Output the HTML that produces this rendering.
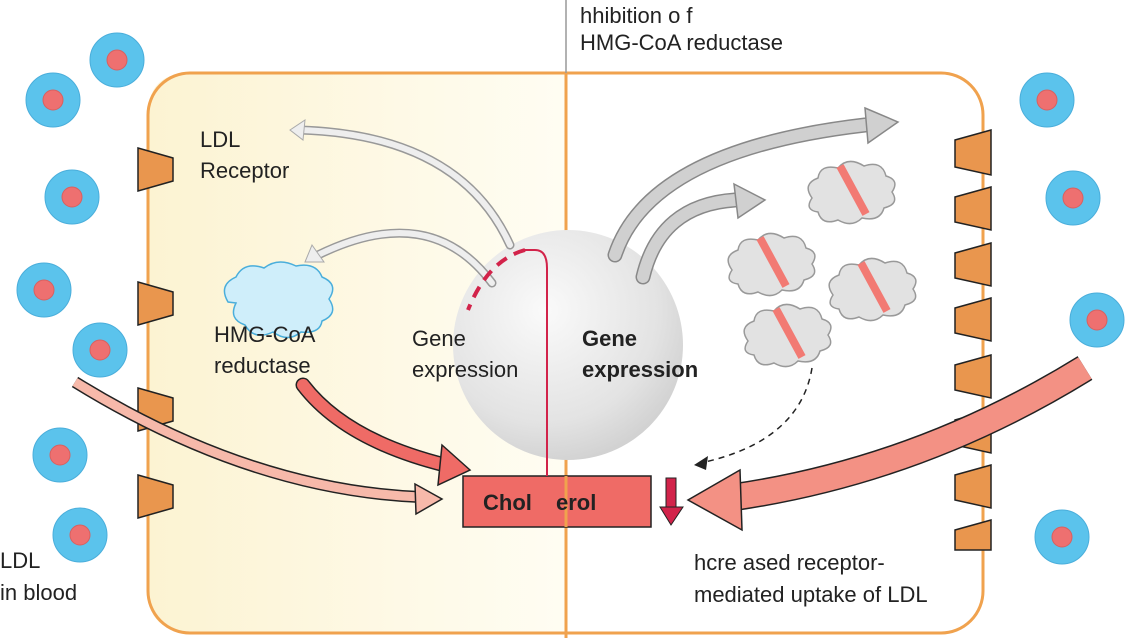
<!DOCTYPE html>
<html><head><meta charset="utf-8"><style>
body{margin:0;background:#fff}
svg{display:block}
text{font-family:"Liberation Sans",sans-serif}
</style></head><body>
<svg width="1125" height="638" viewBox="0 0 1125 638" xmlns="http://www.w3.org/2000/svg">
<defs>
<linearGradient id="lg" x1="0" x2="1" y1="0" y2="0">
<stop offset="0" stop-color="#fcf3d2"/><stop offset="1" stop-color="#fffdf3"/></linearGradient>
<radialGradient id="sg" cx="0.4" cy="0.35" r="0.7">
<stop offset="0" stop-color="#fafafa"/><stop offset="0.7" stop-color="#e3e3e3"/><stop offset="1" stop-color="#cfcfcf"/></radialGradient>
<g id="ldl"><circle r="27" fill="#5bc3ec" stroke="#4aaedb"/><circle r="10" fill="#ee7070" stroke="#d86060"/></g>
<g id="cl"><path d="M-40,8 q-10,-14 6,-20 q2,-14 20,-10 q10,-12 26,-2 q18,-6 22,10 q14,4 6,16 q8,12 -8,16 q-4,14 -22,10 q-10,10 -24,2 q-16,6 -20,-8 q-14,-2 -6,-14z" fill="#e2e2e2" stroke="#999" stroke-width="1.5"/><line x1="-12" y1="-24" x2="14" y2="24" stroke="#f27a73" stroke-width="8"/></g>
</defs>
<path d="M566,73 L190,73 Q148,73 148,115 L148,590 Q148,632 190,632 L566,632Z" fill="url(#lg)"/>
<rect x="148" y="73" width="835" height="560" rx="42" fill="none" stroke="#f0a24e" stroke-width="3"/>
<line x1="566" y1="0" x2="566" y2="73" stroke="#999" stroke-width="1.5"/>
<line x1="566" y1="73" x2="566" y2="638" stroke="#f0a24e" stroke-width="3"/>
<g fill="#e9964e" stroke="#222" stroke-width="1.5">
<path d="M138,148 L173,158 L173,181 L138,191Z"/>
<path d="M138,282 L173,292 L173,315 L138,325Z"/>
<path d="M138,388 L173,398 L173,421 L138,431Z"/>
<path d="M138,475 L173,485 L173,508 L138,518Z"/>
<path d="M991,130 L955,140 L955,167 L991,175Z"/>
<path d="M991,187 L955,197 L955,222 L991,230Z"/>
<path d="M991,243 L955,253 L955,278 L991,286Z"/>
<path d="M991,298 L955,308 L955,333 L991,341Z"/>
<path d="M991,355 L955,365 L955,390 L991,398Z"/>
<path d="M991,410 L955,420 L955,445 L991,453Z"/>
<path d="M991,465 L955,475 L955,500 L991,508Z"/>
<path d="M991,520 L955,530 L955,550 L991,550Z"/>
</g>
<use href="#ldl" x="117" y="60"/><use href="#ldl" x="53" y="100"/><use href="#ldl" x="72" y="197"/>
<use href="#ldl" x="44" y="290"/><use href="#ldl" x="100" y="350"/><use href="#ldl" x="60" y="455"/>
<use href="#ldl" x="80" y="535"/><use href="#ldl" x="1047" y="100"/><use href="#ldl" x="1073" y="198"/>
<use href="#ldl" x="1097" y="320"/><use href="#ldl" x="1062" y="537"/>
<circle cx="568" cy="345" r="115" fill="url(#sg)"/>
<path d="M510,245 Q460,135 300,130" fill="none" stroke="#999" stroke-width="9" stroke-linecap="round"/>
<path d="M510,245 Q460,135 300,130" fill="none" stroke="#eee" stroke-width="6" stroke-linecap="round"/>
<path d="M290,130 L305,120 L303,140Z" fill="#eee" stroke="#aaa"/>
<path d="M492,283 Q430,200 318,255" fill="none" stroke="#999" stroke-width="9" stroke-linecap="round"/>
<path d="M492,283 Q430,200 318,255" fill="none" stroke="#eee" stroke-width="6" stroke-linecap="round"/>
<path d="M305,262 L312,245 L324,262Z" fill="#eee" stroke="#aaa"/>
<path d="M228,302 q-10,-17 8,-25 q8,-16 28,-9 q14,-11 32,-2 q20,-4 26,11 q17,7 7,22 q10,15 -7,22 q-2,13 -21,11 q-13,11 -28,0 q-19,9 -28,-7 q-17,-6 -9,-22z" fill="#cfeefa" stroke="#4aaedb" stroke-width="1.5"/>
<path d="M615,255 Q650,150 865,125" fill="none" stroke="#888" stroke-width="15" stroke-linecap="round"/>
<path d="M615,255 Q650,150 865,125" fill="none" stroke="#d0d0d0" stroke-width="12" stroke-linecap="round"/>
<path d="M865,108 L898,122 L868,143Z" fill="#d0d0d0" stroke="#888" stroke-width="1.5"/>
<path d="M643,277 Q660,205 735,200" fill="none" stroke="#888" stroke-width="15" stroke-linecap="round"/>
<path d="M643,277 Q660,205 735,200" fill="none" stroke="#d0d0d0" stroke-width="12" stroke-linecap="round"/>
<path d="M734,184 L765,200 L738,218Z" fill="#d0d0d0" stroke="#888" stroke-width="1.5"/>
<use href="#cl" x="852" y="190"/><use href="#cl" x="772" y="262"/><use href="#cl" x="873" y="287"/><use href="#cl" x="788" y="333"/>
<path d="M812,368 Q800,440 705,462" fill="none" stroke="#222" stroke-width="1.5" stroke-dasharray="6,5"/>
<path d="M694,465 L708,456 L706,470Z" fill="#222"/>
<path d="M75,382 Q250,490 420,497" fill="none" stroke="#222" stroke-width="12"/>
<path d="M75,382 Q250,490 420,497" fill="none" stroke="#f7b9aa" stroke-width="9"/>
<path d="M415,484 L442,499 L416,514Z" fill="#f7b9aa" stroke="#222" stroke-width="1.5"/>
<path d="M303,385 Q345,440 445,465" fill="none" stroke="#222" stroke-width="15" stroke-linecap="round"/>
<path d="M303,385 Q345,440 445,465" fill="none" stroke="#ef6b66" stroke-width="12" stroke-linecap="round"/>
<path d="M442,445 L470,470 L438,485Z" fill="#ef6b66" stroke="#222" stroke-width="1.5"/>
<path d="M1085,368 Q920,470 735,497" fill="none" stroke="#222" stroke-width="28"/>
<path d="M1085,368 Q920,470 735,497" fill="none" stroke="#f39184" stroke-width="25"/>
<path d="M740,470 L688,500 L742,530Z" fill="#f39184" stroke="#222" stroke-width="1.5"/>
<rect x="463" y="476" width="188" height="51" fill="#ef6b66" stroke="#222" stroke-width="1.5"/>
<line x1="566" y1="476" x2="566" y2="527" stroke="#f0a24e" stroke-width="3"/>
<text x="483" y="510" font-size="22" font-weight="bold" fill="#222">Chol</text>
<text x="556" y="510" font-size="22" font-weight="bold" fill="#222">erol</text>
<path d="M547,476 L547,268 Q547,250 535,250 L522,250" fill="none" stroke="#d2234a" stroke-width="2"/>
<path d="M525,250 Q488,260 468,310" fill="none" stroke="#d2234a" stroke-width="4" stroke-dasharray="12,8"/>
<rect x="666" y="478" width="10" height="30" fill="#d2234a" stroke="#222"/>
<path d="M660,507 L683,507 L671,525Z" fill="#d2234a" stroke="#222"/>
<g font-size="22" fill="#222">
<text x="200" y="147">LDL</text><text x="200" y="178">Receptor</text>
<text x="214" y="342">HMG-CoA</text><text x="214" y="373">reductase</text>
<text x="412" y="346">Gene</text><text x="412" y="377">expression</text>
<text x="580" y="23">hhibition o f</text><text x="580" y="50">HMG-CoA reductase</text>
<text x="694" y="570">hcre ased receptor-</text><text x="694" y="602">mediated uptake of LDL</text>
<text x="0" y="568">LDL</text><text x="0" y="600">in blood</text>
</g>
<g font-size="22" font-weight="bold" fill="#222">
<text x="582" y="346">Gene</text><text x="582" y="377">expression</text>
</g>
</svg>
</body></html>
